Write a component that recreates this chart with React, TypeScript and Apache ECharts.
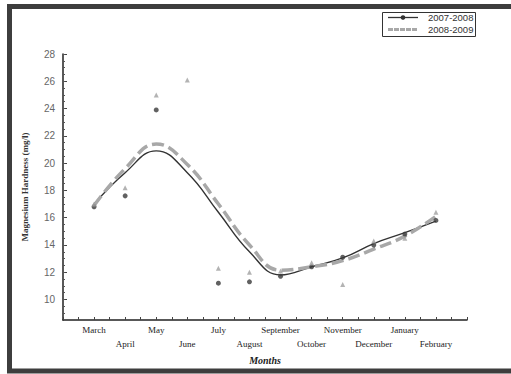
import React, { useEffect, useRef } from "react";
import * as echarts from "echarts";

const months = ["March", "April", "May", "June", "July", "August", "September", "October", "November", "December", "January", "February"];
const seriesNames = ["2007-2008", "2008-2009"];
const points0708: (number | null)[] = [16.8, 17.6, 23.9, null, 11.2, 11.3, 11.7, 12.4, 13.1, 14.0, 14.8, 15.8];
const points0809: (number | null)[] = [17.0, 18.2, 25.0, 26.1, 12.3, 12.0, 12.1, 12.7, 11.1, 14.3, 14.5, 16.4];
const trend0708 = [17.0, 19.3, 20.9, 19.3, 16.4, 13.5, 11.8, 12.4, 13.05, 14.1, 14.9, 15.75];
const trend0809 = [16.9, 19.6, 21.4, 19.9, 17.0, 14.0, 12.15, 12.4, 12.85, 13.7, 14.65, 16.1];
const yMajorTicks = [10, 12, 14, 16, 18, 20, 22, 24, 26, 28];
const yMinorTicks = [9, 9.5, 10, 10.5, 11, 11.5, 12, 12.5, 13, 13.5, 14, 14.5, 15, 15.5, 16, 16.5, 17, 17.5, 18, 18.5, 19, 19.5, 20, 20.5, 21, 21.5, 22, 22.5, 23, 23.5, 24, 24.5, 25, 25.5, 26, 26.5, 27, 27.5, 28];

const SERIF = "'Liberation Serif', 'DejaVu Serif', serif";
const SANS = "'Liberation Sans', Arial, sans-serif";

export default function App() {
  const ref = useRef<HTMLDivElement>(null);
  useEffect(() => {
    if (!ref.current) return;
    const chart = echarts.init(ref.current, undefined, { renderer: "svg" });
    const toXY = (arr: (number | null)[]) =>
      arr.map((v, i) => (v == null ? null : [i, v])).filter((d) => d !== null);
    chart.setOption({
      animation: false,
      backgroundColor: "#ffffff",
      grid: { left: 63, right: 44, top: 54, bottom: 54 },
      xAxis: {
        type: "value",
        min: -1,
        max: 12,
        interval: 0.5,
        name: "Months",
        nameLocation: "middle",
        nameGap: 30,
        nameTextStyle: { fontFamily: SERIF, fontSize: 10, fontWeight: "bold", fontStyle: "italic", color: "#222" },
        axisLine: { onZero: false, lineStyle: { color: "#222", width: 1.5 } },
        axisTick: { inside: true, length: 3, lineStyle: { color: "#444" } },
        splitLine: { show: false },
        axisLabel: {
          fontFamily: SERIF,
          fontSize: 9,
          color: "#222",
          lineHeight: 14,
          margin: 3,
          formatter: (v: number) => {
            if (!Number.isInteger(v) || v < 0 || v >= months.length) return "";
            return v % 2 === 0 ? months[v] : "\n" + months[v];
          },
        },
      },
      yAxis: [
        {
          type: "value",
          min: 8.5,
          max: 28,
          name: "Magnesium Hardness (mg/l)",
          nameLocation: "middle",
          nameGap: 34,
          nameTextStyle: { fontFamily: SERIF, fontSize: 9, fontWeight: "bold", color: "#333" },
          axisLine: { show: true, onZero: false, lineStyle: { color: "#222", width: 1.5 } },
          axisTick: { show: true, inside: true, length: 4, customValues: yMajorTicks, lineStyle: { color: "#444" } },
          axisLabel: { customValues: yMajorTicks, fontFamily: SANS, fontSize: 10, color: "#666", margin: 8 },
          splitLine: { show: false },
        },
        {
          type: "value",
          min: 8.5,
          max: 28,
          position: "left",
          axisLine: { show: false, onZero: false },
          axisTick: { show: true, inside: true, length: 2, customValues: yMinorTicks, lineStyle: { color: "#555" } },
          axisLabel: { show: false },
          splitLine: { show: false },
        },
      ],
      series: [
        {
          name: seriesNames[0],
          type: "line",
          smooth: 0.45,
          symbol: "none",
          lineStyle: { color: "#333", width: 1.4 },
          data: toXY(trend0708),
          z: 2,
        },
        {
          name: seriesNames[1],
          type: "line",
          smooth: 0.45,
          symbol: "none",
          lineStyle: { color: "#a8a8a8", width: 3.5, type: [12, 5] },
          data: toXY(trend0809),
          z: 3,
        },
        {
          name: seriesNames[0] + " data",
          type: "scatter",
          symbol: "circle",
          symbolSize: 5,
          itemStyle: { color: "#3a3a3a" },
          data: toXY(points0708),
          z: 4,
        },
        {
          name: seriesNames[1] + " data",
          type: "scatter",
          symbol: "triangle",
          symbolSize: 5,
          itemStyle: { color: "#a0a0a0" },
          data: toXY(points0809),
          z: 4,
        },
      ],
      graphic: [
        {
          type: "rect",
          shape: { x: 9.5, y: 6.5, width: 600, height: 364.5 },
          style: { fill: "none", stroke: "#3d3d3d", lineWidth: 5 },
          silent: true,
        },
        {
          type: "group",
          silent: true,
          children: [
            { type: "rect", shape: { x: 382.5, y: 12.5, width: 93, height: 24 }, style: { fill: "#fff", stroke: "#333", lineWidth: 1 } },
            { type: "line", shape: { x1: 388, y1: 17.5, x2: 418, y2: 17.5 }, style: { stroke: "#333", lineWidth: 1.3 } },
            { type: "circle", shape: { cx: 403, cy: 17.5, r: 2.3 }, style: { fill: "#333" } },
            { type: "text", x: 428, y: 17.5, style: { text: seriesNames[0], fontFamily: SANS, fontSize: 9.5, fill: "#333", verticalAlign: "middle" } },
            { type: "line", shape: { x1: 388, y1: 29.5, x2: 418, y2: 29.5 }, style: { stroke: "#a8a8a8", lineWidth: 3, lineDash: [5, 1] } },
            { type: "text", x: 428, y: 29.5, style: { text: seriesNames[1], fontFamily: SANS, fontSize: 9.5, fill: "#333", verticalAlign: "middle" } },
          ],
        },
      ],
    });
    return () => chart.dispose();
  }, []);
  return <div ref={ref} style={{ position: "fixed", left: 0, top: 0, width: 511, height: 374 }} />;
}
